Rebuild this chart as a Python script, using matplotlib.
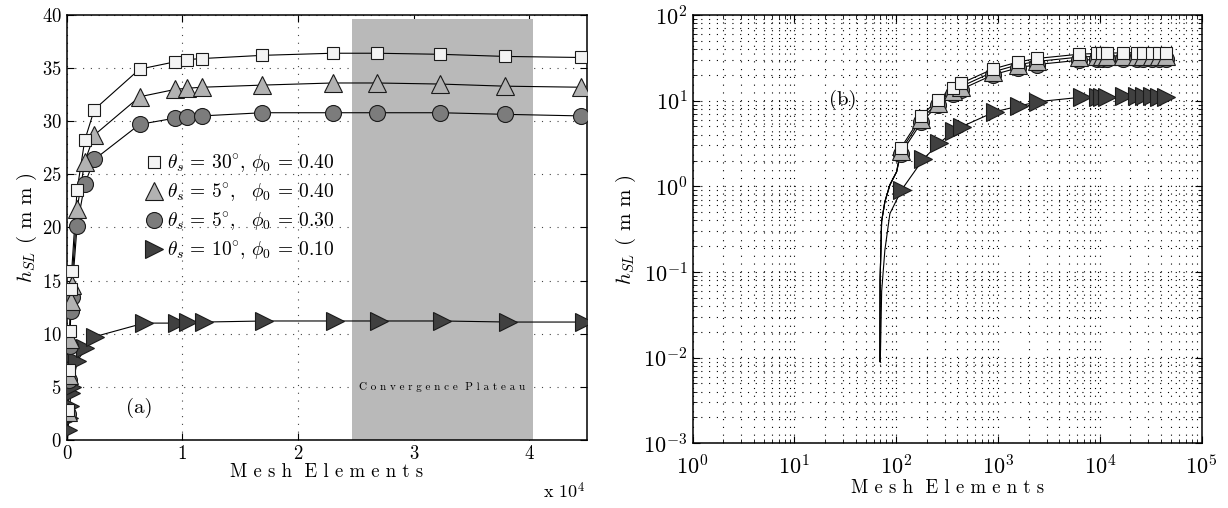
import numpy as np
import matplotlib
matplotlib.use("Agg")
import matplotlib.pyplot as plt
from matplotlib.ticker import NullFormatter

plt.rcParams['font.family'] = 'cmr10'
plt.rcParams['mathtext.fontset'] = 'cm'
plt.rcParams['axes.formatter.use_mathtext'] = True

# mesh element counts (shared by the three upper cases)
elems = [111, 177, 255, 363, 432, 897, 1560, 2390, 6300, 9400, 10400,
         11700, 16900, 23000, 26800, 32300, 37900, 44500]
elems_d = [113, 184, 264, 371, 439, 933, 1615, 2449, 6700, 9500, 10500,
           11900, 17100, 23200, 27000, 32500, 38200, 44700]

# h_SL in mm
h_sq = [2.8, 6.6, 10.3, 14.2, 15.9, 23.5, 28.2, 31.1, 34.9, 35.6, 35.8,
        35.9, 36.2, 36.4, 36.4, 36.3, 36.1, 36.0]
h_tri = [2.6, 6.1, 9.5, 13.1, 14.6, 21.7, 26.2, 28.7, 32.3, 33.0, 33.1,
         33.2, 33.4, 33.6, 33.6, 33.5, 33.3, 33.2]
h_circ = [2.4, 5.6, 8.8, 12.1, 13.5, 20.1, 24.1, 26.4, 29.7, 30.3, 30.4,
          30.5, 30.8, 30.8, 30.8, 30.8, 30.65, 30.5]
h_dark = [0.91, 2.07, 3.18, 4.46, 4.97, 7.43, 8.67, 9.73, 11.0, 11.0, 11.1,
          11.1, 11.2, 11.2, 11.2, 11.2, 11.1, 11.1]

# start of the fitted curves
lead_x = [69.2, 69.5, 71.9, 77.4, 86.7, 101]
lead_y = [0.009, 0.08, 0.39, 0.66, 1.04, 1.48]
lead_xd = [69.8, 72, 77.4, 86.7]
lead_yd = [0.009, 0.06, 0.18, 0.48]

labels = [r'$\theta_s\,=\,30^{\circ},\,\phi_0\,=\,0.40$',
          r'$\theta_s\,=\,5^{\circ},\;\;\,\phi_0\,=\,0.40$',
          r'$\theta_s\,=\,5^{\circ},\;\;\,\phi_0\,=\,0.30$',
          r'$\theta_s\,=\,10^{\circ},\,\phi_0\,=\,0.10$']

plateau = (24700, 40300)


def spaced(s):
    # letter-spaced text, like the original figure
    return '  '.join(' '.join(w) for w in s.split(' '))


series = [  # drawn back to front
    (elems_d, h_dark, lead_xd, lead_yd, '>', '#404040', 12.5),
    (elems, h_circ, lead_x, lead_y, 'o', '#7c7c7c', 11.5),
    (elems, h_tri, lead_x, lead_y, '^', '#b2b2b2', 12.5),
    (elems, h_sq, lead_x, lead_y, 's', '#f3f3f3', 9),
]

fig = plt.figure(figsize=(12.28, 5.08), dpi=100)
ax1 = fig.add_axes([0.0543, 0.1339, 0.4237, 0.8366])
ax2 = fig.add_axes([0.564, 0.1274, 0.4145, 0.843])

handles = []
for ax in (ax1, ax2):
    hs = []
    for x, y, lx, ly, m, fc, ms in series:
        ax.plot(np.r_[lx, x], np.r_[ly, y], '-', color='black', lw=0.8, zorder=3)
        h, = ax.plot(x, y, ls='none', marker=m, ms=ms, mfc=fc, mec='#1a1a1a',
                     mew=0.8, zorder=4)
        hs.append(h)
    handles = hs
    ax.tick_params(direction='in', top=True, right=True,
                   length=5, width=0.8)
    for s in ax.spines.values():
        s.set_linewidth(1.1)

# panel (a)
ax1.axvspan(plateau[0], plateau[1], ymin=0, ymax=39.6 / 40, color='#b9b9b9',
            lw=0, zorder=1)
ax1.set_xlim(0, 45000)
ax1.set_ylim(0, 40)
ax1.set_xticks([0, 10000, 20000, 30000, 40000])
ax1.set_xticklabels(['0', '1', '2', '3', '4'])
ax1.set_yticks(range(0, 41, 5))
ax1.tick_params(labelsize=13.5)
ax1.set_axisbelow(True)
ax1.grid(True, ls=(0, (1, 6)), lw=0.8, color='#444444')
ax1.set_xlabel(spaced('Mesh Elements'), fontsize=13.5, labelpad=0)
ax1.set_ylabel(r'$h_{SL}$ ( m m )', fontsize=15, labelpad=2)
ax1.text(0.915, -0.12, r'x 10$^4$', transform=ax1.transAxes, fontsize=13,
         ha='left', va='center')
ax1.text(6300, 3.0, '(a)', fontsize=15, ha='center', va='center')
ax1.text(sum(plateau) / 2, 5.0, spaced('Convergence Plateau'),
         fontsize=8, ha='center', va='center', zorder=2)
ax1.legend(handles[::-1], labels, loc='upper left',
           bbox_to_anchor=(0.13, 0.695), frameon=False, fontsize=14,
           handletextpad=0.1, labelspacing=0.35, handlelength=1.2,
           borderaxespad=0)

# panel (b)
ax2.set_xscale('log')
ax2.set_yscale('log')
ax2.set_xlim(1, 1e5)
ax2.set_ylim(1e-3, 1e2)
ax2.xaxis.set_minor_formatter(NullFormatter())
ax2.yaxis.set_minor_formatter(NullFormatter())
ax2.tick_params(labelsize=16)
ax2.tick_params(axis='x', pad=8)
ax2.tick_params(which='minor', direction='in', top=True, right=True,
                length=3, width=0.6)
ax2.set_axisbelow(True)
ax2.grid(True, which='both', ls=(0, (1, 6)), lw=0.8, color='black')
ax2.set_xlabel(spaced('Mesh Elements'), fontsize=13.5, labelpad=0)
ax2.set_ylabel(r'$h_{SL}$ ( m m )', fontsize=15, labelpad=4)
ax2.text(29.7, 10.2, '(b)', fontsize=15, ha='center', va='center')

fig.savefig('out.png', dpi=100)
